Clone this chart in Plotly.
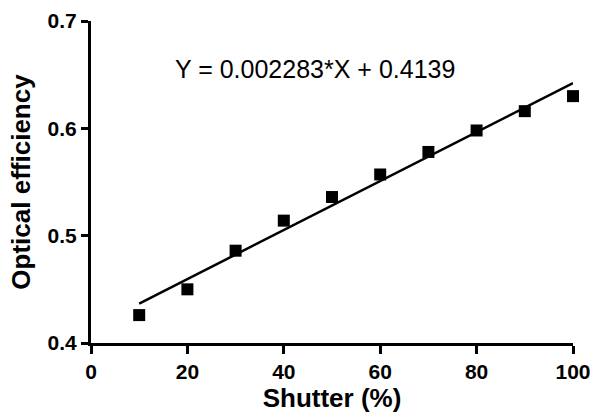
import plotly.graph_objects as go

shutter = [10, 20, 30, 40, 50, 60, 70, 80, 90, 100]
efficiency = [0.426, 0.450, 0.486, 0.514, 0.536, 0.557, 0.578, 0.598, 0.616, 0.630]
slope = 0.002283
intercept = 0.4139
fit_x = [10, 100]
x_ticks = [0, 20, 40, 60, 80, 100]
y_ticks = [0.4, 0.5, 0.6, 0.7]

fit_y = [slope * x + intercept for x in fit_x]

fig = go.Figure()
fig.add_trace(go.Scatter(x=fit_x, y=fit_y, mode="lines", cliponaxis=False,
                         line=dict(color="black", width=2.5), showlegend=False))
fig.add_trace(go.Scatter(x=shutter, y=efficiency, mode="markers", cliponaxis=False,
                         marker=dict(symbol="square", size=12, color="black"),
                         showlegend=False))

font_family = "Liberation Sans, Arial, sans-serif"
fig.add_annotation(x=46.5, y=0.655, xref="x", yref="y",
                   text="Y = 0.002283*X + 0.4139", showarrow=False,
                   font=dict(family=font_family, size=25, color="black"))

fig.update_layout(
    width=595, height=420,
    margin=dict(l=91, r=22, t=21, b=77, autoexpand=False),
    paper_bgcolor="white", plot_bgcolor="white",
    font=dict(family=font_family, color="black"),
)
fig.update_xaxes(
    range=[0, 100], tickvals=x_ticks, ticktext=[str(v) for v in x_ticks],
    automargin=False,
    showgrid=False, zeroline=False, showline=True, linecolor="black", linewidth=3,
    ticks="outside", ticklen=8, tickwidth=3, tickcolor="black",
    tickfont=dict(family=font_family, size=21, weight="bold"),
    title=dict(text="Shutter (%)", font=dict(family=font_family, size=26, weight="bold"), standoff=4),
)
fig.update_yaxes(
    range=[0.4, 0.7], tickvals=y_ticks, ticktext=[f"{v:.1f}" for v in y_ticks],
    automargin=False,
    showgrid=False, zeroline=False, showline=True, linecolor="black", linewidth=3,
    ticks="outside", ticklen=7, tickwidth=3, tickcolor="black",
    tickfont=dict(family=font_family, size=21, weight="bold"),
    title=dict(text="Optical efficiency", font=dict(family=font_family, size=26, weight="bold"), standoff=10),
)

fig.write_html("out.html")
